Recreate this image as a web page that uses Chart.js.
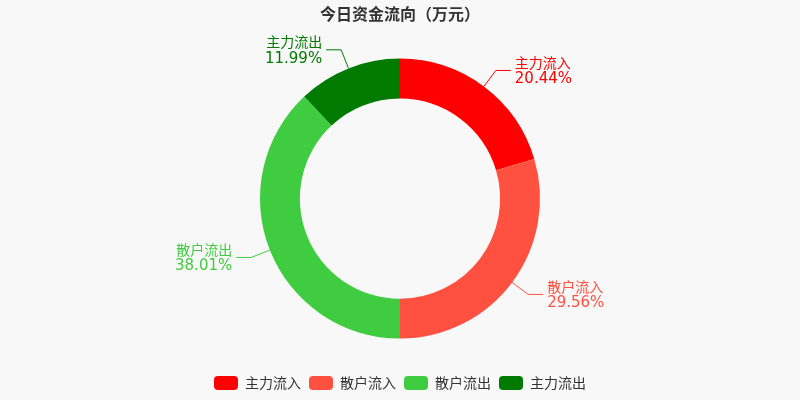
<!DOCTYPE html>
<html><head><meta charset="utf-8">
<script src="https://cdn.jsdelivr.net/npm/chart.js@4"></script>
<style>html,body{margin:0;background:#f8f8f8}#wrap{width:800px;height:400px}</style>
</head><body><div id="wrap"><canvas id="c"></canvas></div>
<script>
/* ─── data ─── */
const labels = ['主力流入', '散户流入', '散户流出', '主力流出'];
const shares = [20.44, 29.56, 38.01, 11.99];
const colors = ['#ff0000', '#ff5040', '#40cc40', '#007a00'];

/* leader lines + two-line labels */
const leaderLabels = {
  id: 'leaderLabels',
  afterDatasetsDraw(chart) {
    const c = chart.ctx;
    chart.getDatasetMeta(0).data.forEach((arc, i) => {
      const { x, y, startAngle, endAngle, outerRadius } = arc.getProps(['x','y','startAngle','endAngle','outerRadius'], true);
      const mid = (startAngle + endAngle) / 2;
      const cos = Math.cos(mid), sin = Math.sin(mid);
      const x0 = x + cos * outerRadius, y0 = y + sin * outerRadius;
      const x1 = x + cos * (outerRadius + 20), y1 = y + sin * (outerRadius + 20);
      const dir = cos >= 0 ? 1 : -1;
      const x2 = x1 + dir * 15;
      c.save();
      c.strokeStyle = colors[i]; c.lineWidth = 1;
      c.beginPath(); c.moveTo(x0, y0); c.lineTo(x1, y1); c.lineTo(x2, y1); c.stroke();
      c.fillStyle = colors[i];
      c.textAlign = dir > 0 ? 'left' : 'right';
      c.textBaseline = 'middle';
      c.font = '14px "Noto Sans CJK SC", sans-serif';
      c.fillText(labels[i], x2 + dir * 4, y1 - 8);
      c.font = '15px "DejaVu Sans", sans-serif';
      c.fillText(shares[i].toFixed(2) + '%', x2 + dir * 4, y1 + 9);
      c.restore();
    });
  }
};

new Chart(document.getElementById('c'), {
  type: 'doughnut',
  data: { labels, datasets: [{ data: shares, backgroundColor: colors, borderWidth: 0, radius: 140 }] },
  options: {
    responsive: true, maintainAspectRatio: false, animation: false,
    cutout: '71.5%',
    rotation: 0,
    layout: { padding: { top: 0, bottom: 0 } },
    plugins: {
      title: { display: true, text: '今日资金流向（万元）', color: '#333',
               font: { size: 16, weight: 'bold', family: '"Noto Sans CJK SC"' }, padding: { top: 4, bottom: 6 } },
      legend: { position: 'bottom',
        labels: { color: '#333', font: { size: 14, family: '"Noto Sans CJK SC"' },
                  boxWidth: 24, boxHeight: 14, useBorderRadius: true, borderRadius: 4, padding: 8 } },
      tooltip: { enabled: false }
    }
  },
  plugins: [leaderLabels]
});
</script></body></html>
